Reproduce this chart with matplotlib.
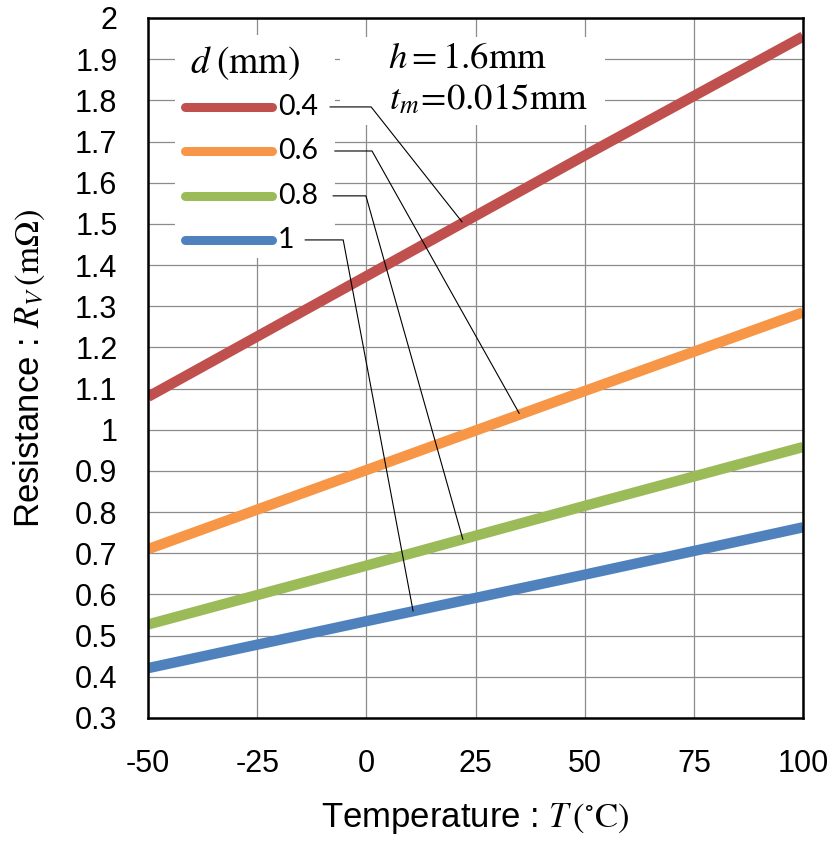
import matplotlib
matplotlib.use("Agg")
import matplotlib.pyplot as plt
from matplotlib.patches import Rectangle

plt.rcParams["mathtext.fontset"] = "stix"
plt.rcParams["axes.unicode_minus"] = False

# data
temps = [-50, 0, 50, 100]
r_d04 = [1.080, 1.373, 1.666, 1.955]
r_d06 = [0.710, 0.902, 1.094, 1.285]
r_d08 = [0.527, 0.670, 0.815, 0.958]
r_d10 = [0.421, 0.535, 0.648, 0.763]
diam_labels = ["0.4", "0.6", "0.8", "1"]
colors = ["#C0504D", "#F79646", "#9BBB59", "#4F81BD"]
xticks = [-50, -25, 0, 25, 50, 75, 100]
yticks = [0.3, 0.4, 0.5, 0.6, 0.7, 0.8, 0.9, 1.0, 1.1, 1.2, 1.3, 1.4, 1.5, 1.6, 1.7, 1.8, 1.9, 2.0]
ytick_labels = ["0.3", "0.4", "0.5", "0.6", "0.7", "0.8", "0.9", "1", "1.1", "1.2", "1.3", "1.4",
                "1.5", "1.6", "1.7", "1.8", "1.9", "2"]
# leader lines: label end, bend, point on the curve
leader_x = [[-8.3, 1.1, 21.9], [-7.2, 1.3, 35.0], [-7.6, -0.1, 22.1], [-14.0, -5.3, 10.7]]
leader_y = [[1.784, 1.784, 1.505], [1.677, 1.677, 1.040], [1.568, 1.568, 0.734], [1.461, 1.461, 0.560]]

series = [r_d04, r_d06, r_d08, r_d10]
SANS = "Liberation Sans"

fig = plt.figure(figsize=(8.34, 8.41), dpi=100)
ax = fig.add_axes([0.1775, 0.1463, 0.7853, 0.8323])

for vals, c in zip(series, colors):
    ax.plot(temps, vals, color=c, lw=7.5, solid_capstyle="butt", zorder=3)

ax.set_xlim(-50, 100)
ax.set_ylim(0.3, 2.0)
ax.set_xticks(xticks)
ax.set_yticks(yticks)
ax.set_yticklabels(ytick_labels)
ax.grid(True, color="#8c8c8c", lw=0.9, zorder=0)
ax.set_axisbelow(True)
ax.tick_params(length=0, labelsize=22)
ax.tick_params(axis="y", pad=22)
ax.tick_params(axis="x", pad=22)
for lab in ax.get_xticklabels() + ax.get_yticklabels():
    lab.set_fontfamily(SANS)
for s in ax.spines.values():
    s.set_linewidth(1.8)
    s.set_zorder(5)

# white boxes behind legend and annotation (they cut the grid)
ax.add_patch(Rectangle((-43.8, 1.417), 36.6, 0.542, facecolor="white", edgecolor="none", zorder=1))
ax.add_patch(Rectangle((-6.0, 1.74), 60.6, 0.214, facecolor="white", edgecolor="none", zorder=1))

# legend drawn by hand
ax.text(-27.8, 1.89, r"$d\;(\mathrm{mm})$", fontsize=27, ha="center", va="center", zorder=4)
for i, (lab, c) in enumerate(zip(diam_labels, colors)):
    y = leader_y[i][0]
    ax.plot([-41.5, -21.5], [y, y], color=c, lw=6.5, solid_capstyle="round", zorder=4)
    ax.text(-20.3, y, lab, fontsize=20.5, family="Lato", ha="left", va="center", zorder=4)
    ax.plot(leader_x[i], leader_y[i], color="black", lw=0.8, zorder=4)

ax.text(5.0, 1.905, r"$h = 1.6\mathrm{mm}$", fontsize=26.5, ha="left", va="center", zorder=4)
ax.text(5.3, 1.805, r"$t_m\!=\!0.015\mathrm{mm}$", fontsize=26.5, ha="left", va="center", zorder=4)

ax.set_xlabel(r"Temperature : $T\,(^{\circ}\mathrm{C})$", fontsize=25, family=SANS, labelpad=16)
ax.set_ylabel(r"Resistance : $R_V\,(\mathrm{m\Omega})$", fontsize=25, family=SANS, labelpad=20)

fig.savefig("out.png", dpi=100)
